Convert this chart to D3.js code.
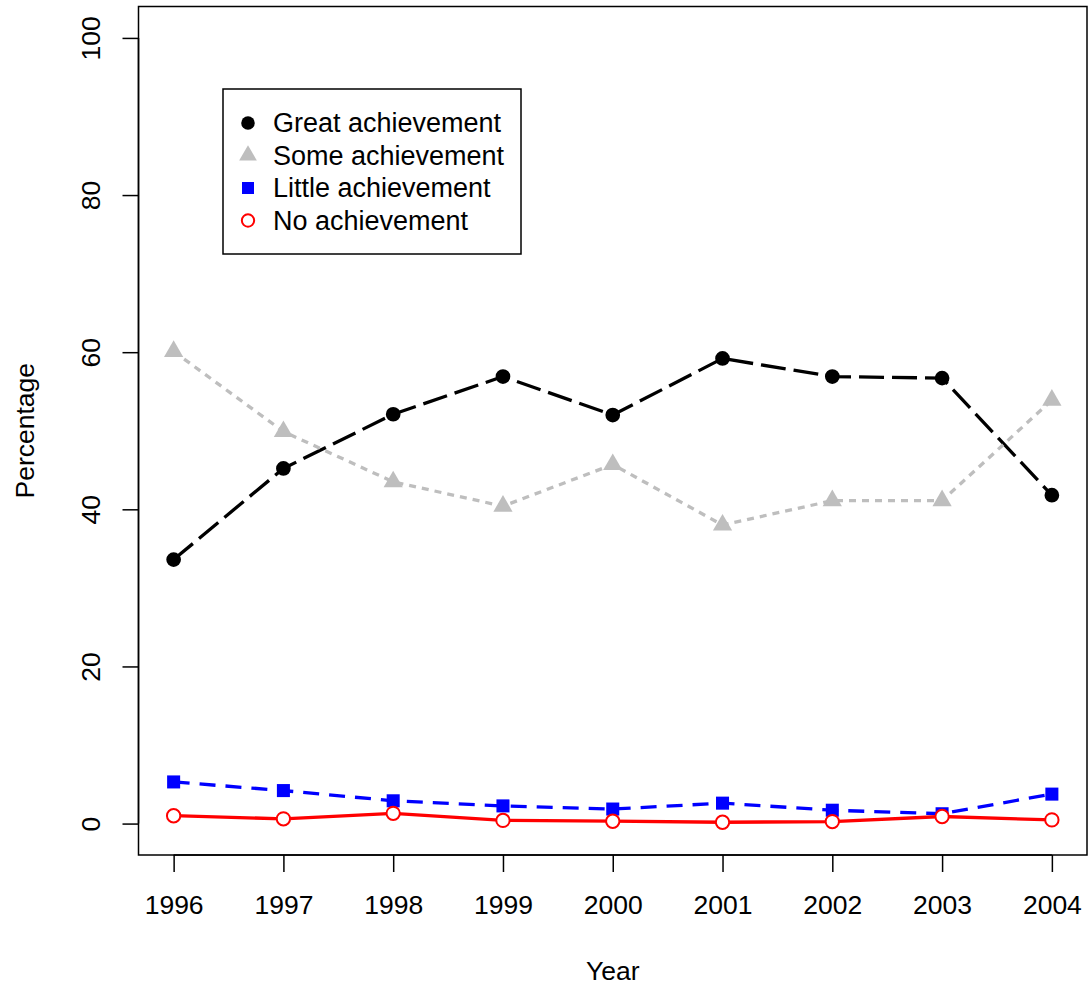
<!DOCTYPE html>
<html><head><meta charset="utf-8">
<script src="https://cdn.jsdelivr.net/npm/d3@7"></script>
<style>body{margin:0;background:#fff}svg{display:block}text{font-family:"Liberation Sans",Arial,sans-serif;fill:#000}</style>
</head><body><svg id="c" width="1089" height="989"></svg>
<script>
const years = [1996,1997,1998,1999,2000,2001,2002,2003,2004];
const great  = [33.6,45.2,52.1,56.9,52.0,59.2,56.9,56.7,41.8];
const some   = [60.1,49.9,43.5,40.4,45.7,38.0,41.1,41.1,53.9];
const little = [5.3,4.2,2.9,2.25,1.85,2.6,1.7,1.25,3.75];
const none   = [1.0,0.6,1.3,0.4,0.3,0.17,0.25,0.9,0.47];
const yTicks = [0,20,40,60,80,100];
const seriesNames = ["Great achievement","Some achievement","Little achievement","No achievement"];

const svg = d3.select("#c");
const L=138.5, R=1087, T=6.5, B=855;
const FS = 26.5;
const x = d3.scaleLinear().domain([1995.68,2004.32]).range([L,R]);
const y = d3.scaleLinear().domain([-4,104]).range([B,T]);

svg.append("rect").attr("x",L).attr("y",T).attr("width",R-L).attr("height",B-T)
  .attr("fill","none").attr("stroke","#000").attr("stroke-width",1.5);

const xa = svg.append("g").attr("transform",`translate(0,${B})`)
  .call(d3.axisBottom(x).tickValues(years).tickFormat(d3.format("d")).tickSize(17).tickPadding(23));
xa.select(".domain").attr("d",`M${x(1996)},0H${x(2004)}`).attr("stroke-width",1.5);
xa.selectAll("line").attr("stroke-width",1.5);
xa.selectAll("text").attr("font-size",FS).attr("font-family","Liberation Sans, Arial, sans-serif");

const ya = svg.append("g").attr("transform",`translate(${L},0)`)
  .call(d3.axisLeft(y).tickValues(yTicks).tickSize(16).tickPadding(0));
ya.select(".domain").attr("d",`M0,${y(0)}V${y(100)}`).attr("stroke-width",1.5);
ya.selectAll("line").attr("stroke-width",1.5);
ya.selectAll("text").attr("font-size",FS).attr("font-family","Liberation Sans, Arial, sans-serif")
  .attr("text-anchor","middle").attr("x",0).attr("dy",0)
  .attr("transform","translate(-48,0) rotate(-90)").attr("dominant-baseline","central");

svg.append("text").attr("x",(L+R)/2).attr("y",980).attr("text-anchor","middle").attr("font-size",FS).text("Year");
svg.append("text").attr("transform",`translate(34,${(T+B)/2}) rotate(-90)`).attr("text-anchor","middle").attr("font-size",FS).text("Percentage");

const series = [
  {name:seriesNames[0], v:great, color:"#000", dash:"25,8", sym:d3.symbolCircle, fill:true, size:170},
  {name:seriesNames[1], v:some, color:"#BEBEBE", dash:"7,6", sym:d3.symbolTriangle, fill:true, size:160},
  {name:seriesNames[2], v:little, color:"#0000FF", dash:"16,10", sym:d3.symbolSquare, fill:true, size:170},
  {name:seriesNames[3], v:none, color:"#FF0000", dash:null, sym:d3.symbolCircle, fill:false, size:140}
];
const line = d3.line().x((d,i)=>x(years[i])).y(d=>y(d));
series.forEach(s=>{
  svg.append("path").attr("d",line(s.v)).attr("fill","none").attr("stroke",s.color)
    .attr("stroke-width",3.3).attr("stroke-dasharray",s.dash);
  svg.selectAll(null).data(s.v).enter().append("path")
    .attr("d",d3.symbol().type(s.sym).size(s.size))
    .attr("transform",(d,i)=>`translate(${x(years[i])},${y(d)})`)
    .attr("fill",s.fill?s.color:"#fff").attr("stroke",s.fill?"none":s.color).attr("stroke-width",2);
});

const lg = svg.append("g");
lg.append("rect").attr("x",223).attr("y",89).attr("width",298).attr("height",165)
  .attr("fill","#fff").attr("stroke","#000").attr("stroke-width",1.5);
series.forEach((s,i)=>{
  const cy = 123 + i*32.5;
  lg.append("path").attr("d",d3.symbol().type(s.sym).size(s.size*0.85))
    .attr("transform",`translate(248,${cy})`)
    .attr("fill",s.fill?s.color:"#fff").attr("stroke",s.fill?"none":s.color).attr("stroke-width",2);
  lg.append("text").attr("x",273).attr("y",cy).attr("dominant-baseline","central").attr("font-size",FS+0.5).text(s.name);
});
</script></body></html>
